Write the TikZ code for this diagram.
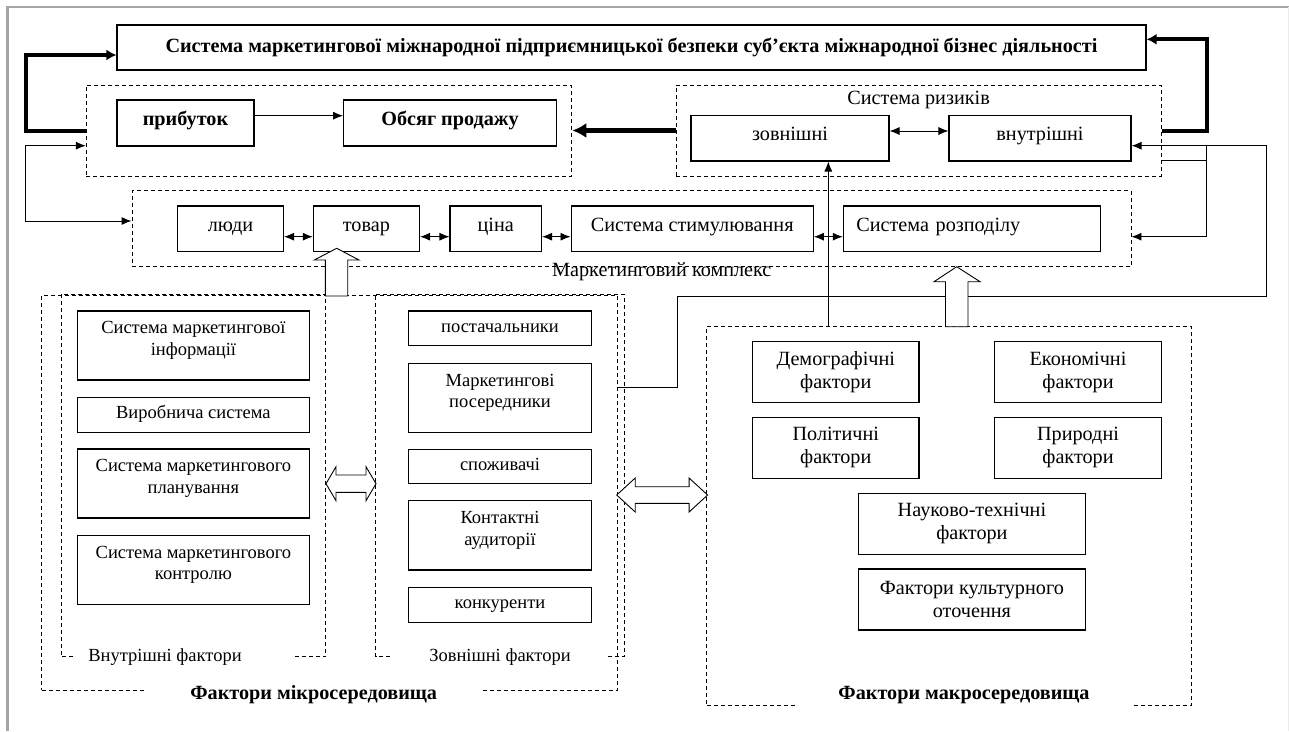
\documentclass[tikz,border=0pt]{standalone}
\usepackage{fontspec}
\setmainfont{Liberation Serif}
\usetikzlibrary{arrows.meta,calc}
\begin{document}
\begin{tikzpicture}[x=1pt,y=-1pt,
  font=\fontsize{20.2}{23.3}\selectfont,
  box/.style={draw, line width=1.1pt, inner sep=0pt, align=center},
  sbox/.style={box, font=\fontsize{18.5}{21.5}\selectfont},
  one/.style={text height=13pt, text depth=8pt},
  sone/.style={text height=12pt, text depth=4pt},
  raised/.style={text depth=14pt},
  dbox/.style={draw, dash pattern=on 4pt off 3pt, line width=0.9pt, inner sep=0pt},
  dline/.style={dash pattern=on 4pt off 3pt, line width=0.9pt},
  conn/.style={line width=0.9pt},
  arr/.style={line width=0.9pt, -{Latex[length=10pt,width=8pt]}},
  arrb/.style={line width=0.9pt, {Latex[length=10pt,width=8pt]}-{Latex[length=10pt,width=8pt]}},
  thk/.style={line width=4pt, -{Latex[length=10pt,width=11pt]}},
  thkb/.style={line width=4.5pt, -{Latex[length=14pt,width=15pt]}},
  hollow/.style={draw, fill=white, line width=0.9pt, line join=miter},
  lbl/.style={inner sep=0pt},
  slbl/.style={inner sep=0pt, font=\fontsize{18.5}{21.5}\selectfont},
  blbl/.style={inner ysep=3pt, fill=white, font=\bfseries\fontsize{20.2}{23}\selectfont},
]
\useasboundingbox (0,0) rectangle (1289,731);
% frame
\draw[gray!70, line width=2.5pt] (7.5,731) -- (7.5,7) -- (1289,7);
\draw[gray!15, line width=1pt] (1288,7) -- (1288,731);

% title
\node[box, minimum width=1029pt, minimum height=45pt, font=\bfseries\fontsize{20.2}{23}\selectfont] (title) at (631.5,47.5) {Система маркетингової міжнародної підприємницької безпеки суб’єкта міжнародної бізнес діяльності};

% dashed containers
\node[dbox, minimum width=485.5pt, minimum height=91pt] (profit) at (329.05,130.5) {};
\node[dbox, minimum width=484.9pt, minimum height=91pt] (risk) at (918.85,130.5) {};
\node[dbox, minimum width=999pt, minimum height=76pt] (mk) at (631.5,228.7) {};
\node[dbox, minimum width=575.5pt, minimum height=395pt] (micro) at (329.25,492.5) {};
\node[dbox, minimum width=484.7pt, minimum height=379pt] (macro) at (949.15,516.2) {};
\draw[dline] (73,656.7) -- (61,656.7) -- (61,294) -- (325.7,294) -- (325.7,656.7) -- (293.8,656.7);
\draw[dline] (390,656.7) -- (375.5,656.7) -- (375.5,294) -- (624.5,294) -- (624.5,656.7) -- (608,656.7);

% labels
\node[lbl] (riskl) at (918.6,99.7) {Система ризиків};
\node[lbl] (mkl) at (661.8,272) {Маркетинговий комплекс};
\node[slbl] (vnl) at (165,656.7) {Внутрішні фактори};
\node[slbl] (zvl) at (500,656.7) {Зовнішні фактори};
\node[blbl, inner xsep=44pt] (mikl) at (313.7,695) {Фактори мікросередовища};
\node[blbl, inner xsep=42pt] (makl) at (964,695) {Фактори макросередовища};

% top row
\node[box, one, minimum width=137pt, minimum height=46pt, font=\bfseries\fontsize{20.2}{23}\selectfont] (prib) at (185.5,123) {прибуток};
\node[box, one, minimum width=212.8pt, minimum height=46pt, font=\bfseries\fontsize{20.2}{23}\selectfont] (obs) at (450,123) {Обсяг продажу};
\node[box, one, minimum width=198pt, minimum height=45.3pt] (zovn) at (790,138.3) {зовнішні};
\node[box, one, minimum width=182pt, minimum height=45.3pt] (vnutr) at (1040,138.3) {внутрішні};

% marketing complex
\node[box, one, minimum width=106pt, minimum height=45.7pt] (lyudy) at (230.5,228.8) {люди};
\node[box, one, minimum width=106.2pt, minimum height=45.7pt] (tovar) at (366.4,228.8) {товар};
\node[box, one, minimum width=91.5pt, minimum height=45.7pt] (cina) at (495.75,228.8) {ціна};
\node[box, one, minimum width=242.3pt, minimum height=45.7pt] (stym) at (692.2,228.8) {Система стимулювання};
\node[box, one, minimum width=257.4pt, minimum height=45.7pt, text width=231.4pt, inner xsep=13pt, align=left] (rozp) at (972,228.8) {Система розподілу};

% micro internal
\node[sbox, raised, minimum width=232.3pt, minimum height=69pt] (inf) at (193.4,345.5) {Система маркетингової\\інформації};
\node[sbox, sone, minimum width=232.3pt, minimum height=34.7pt] (vyr) at (193.4,414.7) {Виробнича система};
\node[sbox, raised, minimum width=232.3pt, minimum height=69pt] (plan) at (193.4,483.5) {Система маркетингового\\планування};
\node[sbox, raised, minimum width=232.3pt, minimum height=68.6pt] (kontr) at (193.4,570) {Система маркетингового\\контролю};

% micro external
\node[sbox, sone, minimum width=182.6pt, minimum height=34.7pt] (post) at (500,328.3) {постачальники};
\node[sbox, raised, minimum width=182.6pt, minimum height=69.3pt] (poser) at (500,397.7) {Маркетингові\\посередники};
\node[sbox, sone, minimum width=182.6pt, minimum height=34pt] (spozh) at (500,466.3) {споживачі};
\node[sbox, raised, minimum width=182.6pt, minimum height=69.3pt] (kont) at (500,535.3) {Контактні\\аудиторії};
\node[sbox, sone, minimum width=182.6pt, minimum height=34.7pt] (konk) at (500,604.7) {конкуренти};

% macro
\node[box, minimum width=166.5pt, minimum height=61pt] (demogr) at (835.75,372.2) {Демографічні\\фактори};
\node[box, minimum width=167pt, minimum height=61pt] (econ) at (1078,372.2) {Економічні\\фактори};
\node[box, minimum width=166.5pt, minimum height=61pt] (polit) at (835.75,447.8) {Політичні\\фактори};
\node[box, minimum width=167pt, minimum height=61pt] (pryr) at (1078,447.8) {Природні\\фактори};
\node[box, minimum width=227.2pt, minimum height=61pt] (nauk) at (971.9,523.8) {Науково-технічні\\фактори};
\node[box, minimum width=227.2pt, minimum height=61pt] (kult) at (971.9,599.5) {Фактори культурного\\оточення};

% connectors
\draw[arr] ([yshift=7.3pt]prib.east) -- ([yshift=7.3pt]obs.west);
\draw[thk] (profit.west) -- ++(-60.3,0) |- ([yshift=-7.5pt]title.west);
\draw[thk] (risk.east) -- ++(45.4,0) |- ([yshift=8.2pt]title.east);
\draw[thkb] (risk.west) -- (profit.east);
\draw[arrb] ([yshift=-15.2pt]profit.west) -- ++(-60.3,0) |- ([yshift=7.7pt]mk.west);
\draw[arrb] ([yshift=7.3pt]zovn.east) -- ([yshift=7.3pt]vnutr.west);
\draw[arrb] ([yshift=-7.9pt]lyudy.east) -- ([yshift=-7.9pt]tovar.west);
\draw[arrb] ([yshift=-7.9pt]tovar.east) -- ([yshift=-7.9pt]cina.west);
\draw[arrb] ([yshift=-7.9pt]cina.east) -- ([yshift=-7.9pt]stym.west);
\draw[arrb] ([yshift=-7.9pt]stym.east) -- ([yshift=-7.9pt]rozp.west);

\coordinate (zin) at ([xshift=38.3pt]zovn.south);
\draw[arr] (zin |- macro.north) -- (zin);

\coordinate (c1) at ([yshift=10.7pt]poser.east);
\coordinate (k1) at (677,296);
\coordinate (k3) at (1266.7,145.7);
\draw[arr] (c1 -| micro.east) -| (k1) -| (k3) -- ([yshift=-7.4pt]vnutr.east);
\coordinate (j2) at (1206.7,145.7);
\draw[arr] (j2) |- ([yshift=-8pt]mk.east);
\coordinate (j3) at (1206.7,160);
\draw[conn] (risk.east |- j3) -- (j3);

% hollow block arrows
\draw[hollow] (325.3,296) -- (325.3,260) -- (314.3,260) -- (336.7,248.3) -- (359,260) -- (347.7,260) -- (347.7,296) -- cycle;
\draw[hollow] (945.5,326.7) -- (945.5,281.7) -- (934,281.7) -- (956.7,266.7) -- (980,281.7) -- (968,281.7) -- (968,326.7) -- cycle;
\draw[hollow] (326,483.7) -- (336,466.7) -- (336,475) -- (366,475) -- (366,466.7) -- (376,483.7) -- (366,500.7) -- (366,492.3) -- (336,492.3) -- (336,500.7) -- cycle;
\draw[hollow] (616.7,495) -- (635.2,478) -- (635.2,486.7) -- (689.1,486.7) -- (689.1,478) -- (707.6,495) -- (689.1,512) -- (689.1,503.3) -- (635.2,503.3) -- (635.2,512) -- cycle;
\end{tikzpicture}
\end{document}
